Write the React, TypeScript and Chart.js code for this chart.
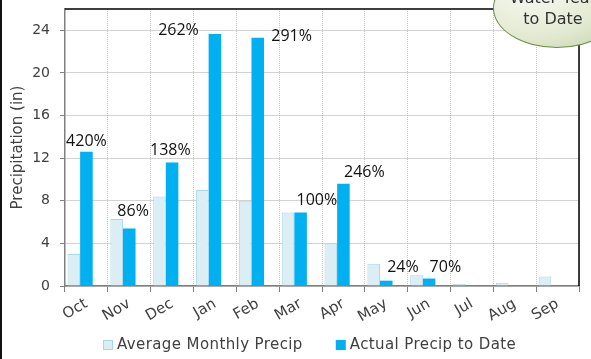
import React, { useEffect, useRef } from "react";
import { Chart, registerables } from "chart.js";

Chart.register(...registerables);

const months = ["Oct", "Nov", "Dec", "Jan", "Feb", "Mar", "Apr", "May", "Jun", "Jul", "Aug", "Sep"];
const averageMonthly = [3.0, 6.3, 8.4, 9.0, 8.0, 6.9, 4.0, 2.1, 1.0, 0.2, 0.3, 0.9];
const actualToDate: (number | null)[] = [12.6, 5.4, 11.6, 23.65, 23.3, 6.9, 9.6, 0.5, 0.7, null, null, null];
const spacerSeries: (number | null)[] = [null, null, null, null, null, null, null, null, null, null, null, null];
const pctLabels = ["420%", "86%", "138%", "262%", "291%", "100%", "246%", "24%", "70%"];
const pctLabelAt = [0.0, 1.09, 1.96, 2.15, 4.79, 5.38, 6.49, 7.39, 8.38];
const pctLabelLevel = [13.6, 6.96, 12.7, 24.0, 23.4, 8.0, 10.7, 1.74, 1.74];
const yTickValues = [0, 4, 8, 12, 16, 20, 24];
const yMax = 26;

const AXIS_FONT = "'DejaVu Sans', sans-serif";

const pctLabelPlugin = {
  id: "pctLabels",
  afterDatasetsDraw(chart: any) {
    const { ctx, scales } = chart;
    const xs = scales.x;
    const ys = scales.y;
    ctx.save();
    ctx.font = "16px 'Open Sans', sans-serif";
    ctx.fillStyle = "#111111";
    ctx.textAlign = "center";
    ctx.textBaseline = "middle";
    pctLabels.forEach((t, i) => {
      ctx.fillText(t, xs.getPixelForValue(pctLabelAt[i]), ys.getPixelForValue(pctLabelLevel[i]));
    });
    ctx.restore();
  },
};

const framePlugin = {
  id: "frame",
  afterDraw(chart: any) {
    const { ctx, chartArea } = chart;
    ctx.save();
    ctx.strokeStyle = "#000000";
    ctx.lineWidth = 1.5;
    ctx.beginPath();
    ctx.moveTo(chartArea.left, chartArea.top);
    ctx.lineTo(chartArea.right, chartArea.top);
    ctx.lineTo(chartArea.right, chartArea.bottom);
    ctx.stroke();
    ctx.restore();
  },
};

const legendPlugin = {
  id: "customLegend",
  afterDraw(chart: any) {
    const ctx = chart.ctx;
    const items = chart.data.datasets.filter((d: any) => d.label !== "spacer");
    ctx.save();
    ctx.font = "15px " + AXIS_FONT;
    (ctx as any).letterSpacing = "0.4px";
    const box = 10;
    const gap = 4;
    const spacing = 33;
    const widths = items.map((d: any) => box + gap + ctx.measureText(d.label).width);
    const total = widths.reduce((a: number, b: number) => a + b, 0) + spacing * (items.length - 1);
    let x = Math.round(chart.width / 2 + 14 - total / 2);
    const y = 345;
    items.forEach((d: any, i: number) => {
      ctx.fillStyle = d.backgroundColor;
      ctx.fillRect(x, y - 5, box, box);
      if (d.borderWidth) {
        ctx.strokeStyle = d.borderColor;
        ctx.lineWidth = 1;
        ctx.strokeRect(x + 0.5, y - 4.5, box - 1, box - 1);
      }
      ctx.fillStyle = "#404040";
      ctx.textAlign = "left";
      ctx.textBaseline = "middle";
      ctx.fillText(d.label, x + box + gap, y);
      x += widths[i] + spacing;
    });
    ctx.restore();
  },
};

export default function App() {
  const ref = useRef<HTMLCanvasElement | null>(null);
  useEffect(() => {
    if (!ref.current) return;
    const chart = new Chart(ref.current, {
      type: "bar",
      data: {
        labels: months,
        datasets: [
          {
            label: "Average Monthly Precip",
            data: averageMonthly,
            backgroundColor: "#daeef3",
            borderColor: "#aad8e6",
            borderWidth: 1,
            categoryPercentage: 0.88,
            barPercentage: 1,
          },
          {
            label: "Actual Precip to Date",
            data: actualToDate,
            backgroundColor: "#00b0f0",
            borderColor: "#00a8e8",
            borderWidth: 0,
            categoryPercentage: 0.88,
            barPercentage: 1,
          },
          {
            label: "spacer",
            data: spacerSeries,
            backgroundColor: "rgba(0,0,0,0)",
            categoryPercentage: 0.88,
            barPercentage: 1,
          },
        ],
      },
      options: {
        responsive: true,
        maintainAspectRatio: false,
        animation: false,
        layout: { padding: { left: 4, top: 9, right: 12, bottom: 34 } },
        plugins: {
          tooltip: { enabled: false },
          legend: { display: false },
        },
        scales: {
          x: {
            grid: {
              color: "#c4c4c4",
              offset: true,
              tickLength: 6,
              tickColor: "#808080",
              tickBorderDash: [],
            },
            border: { color: "#808080", width: 1.5, dash: [1, 1] },
            ticks: {
              autoSkip: false,
              minRotation: 30,
              maxRotation: 30,
              padding: 3,
              color: "#404040",
              font: { family: AXIS_FONT, size: 15 },
            },
            afterFit: (scale: any) => {
              scale.height = 39;
              scale.paddingLeft = 0;
              scale.paddingRight = 0;
            },
          },
          y: {
            min: 0,
            max: yMax,
            afterBuildTicks: (scale: any) => {
              scale.ticks = yTickValues.map((v) => ({ value: v }));
            },
            grid: {
              color: "#a6a6a6",
              tickLength: 5,
              tickColor: "#808080",
              tickBorderDash: [],
            },
            border: { color: "#808080", width: 1.5, dash: [1, 1] },
            ticks: {
              padding: 10,
              color: "#404040",
              font: { family: AXIS_FONT, size: 14 },
            },
            title: {
              display: true,
              text: "Precipitation (in)",
              color: "#404040",
              font: { family: AXIS_FONT, size: 15 },
              padding: { top: 5, bottom: 2 },
            },
            afterFit: (scale: any) => {
              scale.width = 61;
              scale.paddingTop = 0;
              scale.paddingBottom = 0;
            },
          },
        },
      },
      plugins: [pctLabelPlugin, framePlugin, legendPlugin],
    } as any);
    return () => chart.destroy();
  }, []);

  return (
    <div
      style={{
        position: "absolute",
        left: 0,
        top: 0,
        width: 591,
        height: 359,
        overflow: "hidden",
        background: "#ffffff",
      }}
    >
      <div style={{ position: "absolute", left: 0, top: 0, width: 591, height: 359 }}>
        <canvas ref={ref} />
      </div>
      <div
        style={{
          position: "absolute",
          left: 0,
          top: 0,
          width: 2,
          height: 359,
          background: "#111111",
        }}
      />
      <div
        style={{
          position: "absolute",
          left: 493,
          top: -32,
          width: 128,
          height: 80,
          borderRadius: "50%",
          border: "1.5px solid #6f8c48",
          boxSizing: "border-box",
          background: "radial-gradient(ellipse at 30% 30%, #f6f8f0 0%, #e4ebd4 55%, #c3d2a4 100%)",
        }}
      >
        <div
          style={{
            position: "absolute",
            left: 0,
            top: 18,
            width: 118,
            textAlign: "center",
            fontFamily: AXIS_FONT,
            fontSize: 16,
            lineHeight: "21px",
            color: "#333333",
          }}
        >
          Water Year
          <br />
          to Date
        </div>
      </div>
    </div>
  );
}
